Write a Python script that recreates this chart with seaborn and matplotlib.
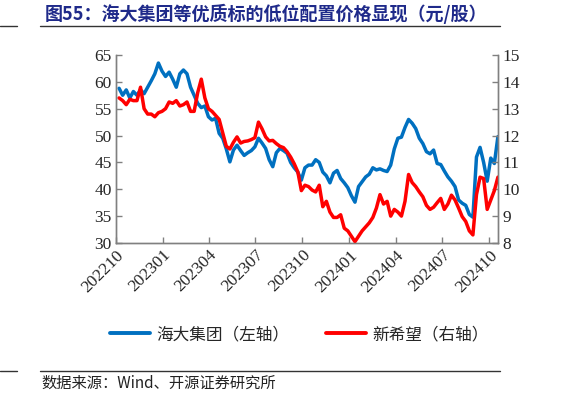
import pandas as pd
import numpy as np
import matplotlib
matplotlib.use("Agg")
import matplotlib.pyplot as plt
import matplotlib.dates as mdates
from matplotlib.lines import Line2D
import seaborn as sns

# Weekly closing prices (Fridays)
dates = pd.date_range("2022-10-07", "2024-10-18", freq="W-FRI")

haida = [58.8, 57.5, 58.5, 57.0, 58.2, 57.5, 58.5, 57.8, 59.0, 60.2,
         61.5, 63.5, 62.0, 61.0, 61.8, 60.5, 59.0, 61.5, 62.2, 61.5,
         59.0, 57.5, 56.0, 55.2, 55.5, 53.5, 52.9, 53.2, 50.4, 49.5,
         47.5, 45.1, 47.3, 48.2, 47.2, 46.3, 46.8, 47.2, 47.9, 49.5,
         48.6, 47.6, 45.5, 44.2, 46.8, 47.6, 47.2, 46.7, 45.0, 44.0,
         43.2, 41.7, 44.0, 44.5, 44.5, 45.5, 45.0, 43.2, 42.5, 41.2,
         43.0, 43.5, 42.0, 41.2, 40.3, 38.8, 37.6, 40.5, 41.4, 42.3,
         42.8, 44.0, 43.6, 43.8, 43.5, 43.3, 44.5, 47.5, 49.5, 49.7,
         51.5, 53.0, 52.3, 51.3, 49.5, 48.5, 47.0, 46.6, 47.3, 44.8,
         44.6, 43.4, 42.3, 41.5, 40.5, 38.0, 37.4, 37.0, 35.3, 34.8,
         46.0, 47.8, 45.0, 41.5, 45.8, 44.8, 49.8]

xinxiwang = [13.4, 13.3, 13.15, 13.35, 13.3, 13.3, 13.8, 13.0, 12.8, 12.8,
             12.7, 12.85, 12.9, 13.0, 13.25, 13.2, 13.3, 13.1, 13.15, 13.25,
             12.9, 12.9, 13.6, 14.1, 13.4, 13.0, 12.9, 12.75, 12.6, 12.1,
             11.6, 11.5, 11.75, 11.95, 11.72, 11.78, 11.8, 11.85, 11.92, 12.5,
             12.25, 11.95, 11.8, 11.82, 11.7, 11.6, 11.55, 11.4, 11.2, 10.95,
             10.65, 9.95, 10.15, 10.1, 9.97, 9.9, 10.15, 9.35, 9.55, 9.15,
             8.95, 8.95, 9.05, 8.55, 8.45, 8.25, 8.05, 8.25, 8.45, 8.6,
             8.75, 8.95, 9.3, 9.8, 9.45, 9.55, 9.0, 9.25, 9.15, 9.0,
             9.55, 10.55, 10.25, 10.1, 9.9, 9.72, 9.4, 9.25, 9.33, 9.5,
             9.66, 9.25, 9.45, 9.78, 9.6, 9.3, 8.98, 8.8, 8.45, 8.3,
             9.8, 10.45, 10.4, 9.25, 9.6, 9.95, 10.45]

left_ticks = [30, 35, 40, 45, 50, 55, 60, 65]
right_ticks = [8, 9, 10, 11, 12, 13, 14, 15]

df = pd.DataFrame({"date": dates, "haida": haida, "xinxiwang": xinxiwang})

sns.set_style("white")
plt.rcParams["font.family"] = ["Liberation Serif", "Noto Sans CJK SC"]
cjk = ["Noto Sans CJK SC", "Liberation Serif"]

BLUE = "#0070C0"
RED = "#FF0000"
SPINE = "#808080"

fig = plt.figure(figsize=(5.81, 3.97), dpi=100)
ax = fig.add_axes([0.1997, 0.388, 0.6573, 0.4735])
ax2 = ax.twinx()

sns.lineplot(data=df, x="date", y="haida", ax=ax, color=BLUE, lw=2.5, legend=False)
sns.lineplot(data=df, x="date", y="xinxiwang", ax=ax2, color=RED, lw=2.5, legend=False)

ax.set_xlim(pd.Timestamp("2022-10-01"), pd.Timestamp("2024-10-18"))
ax.set_ylim(30, 65)
ax2.set_ylim(8, 15)
ax.set_yticks(left_ticks)
ax2.set_yticks(right_ticks)
ax.xaxis.set_major_locator(mdates.MonthLocator(bymonth=[1, 4, 7, 10]))
ax.xaxis.set_major_formatter(mdates.DateFormatter("%Y%m"))
ax.set_xlabel("")
ax.set_ylabel("")
ax2.set_ylabel("")

for a in (ax, ax2):
    a.spines["top"].set_visible(False)
    for s in ("left", "right", "bottom"):
        a.spines[s].set_color(SPINE)
        a.spines[s].set_linewidth(1.0)
    a.tick_params(direction="in", length=4, width=1, color=SPINE,
                  labelsize=12.5, pad=3)
ax.tick_params(axis="y", left=True, right=False)
ax.tick_params(axis="x", bottom=True)
ax2.tick_params(axis="y", right=True, left=False)
for lab in ax.get_xticklabels():
    lab.set_rotation(45)
    lab.set_ha("right")
    lab.set_rotation_mode("anchor")

handles = [Line2D([0], [0], color=BLUE, lw=2.8), Line2D([0], [0], color=RED, lw=2.8)]
fig.legend(handles, ["海大集团（左轴）", "新希望（右轴）"], loc="center",
           bbox_to_anchor=(0.515, 0.157), ncol=2, frameon=False,
           prop={"family": cjk, "size": 12}, handlelength=2.4,
           columnspacing=2.2, handletextpad=0.4)

fig.text(0.077, 0.965, "图55：海大集团等优质标的低位配置价格显现（元/股）",
         family=cjk, fontsize=13, fontweight="bold", color="#1F2A8A",
         va="center", ha="left")
fig.text(0.072, 0.035, "数据来源：Wind、开源证券研究所",
         family=cjk, fontsize=11, color="#222222", va="center", ha="left")

for yy in (1 - 25.5 / 397, 1 - 370.5 / 397):
    fig.add_artist(Line2D([0, 17 / 581], [yy, yy], transform=fig.transFigure,
                          color="#333333", lw=1))
    fig.add_artist(Line2D([40 / 581, 500 / 581], [yy, yy], transform=fig.transFigure,
                          color="#333333", lw=1))

fig.savefig("out.png", dpi=100)
